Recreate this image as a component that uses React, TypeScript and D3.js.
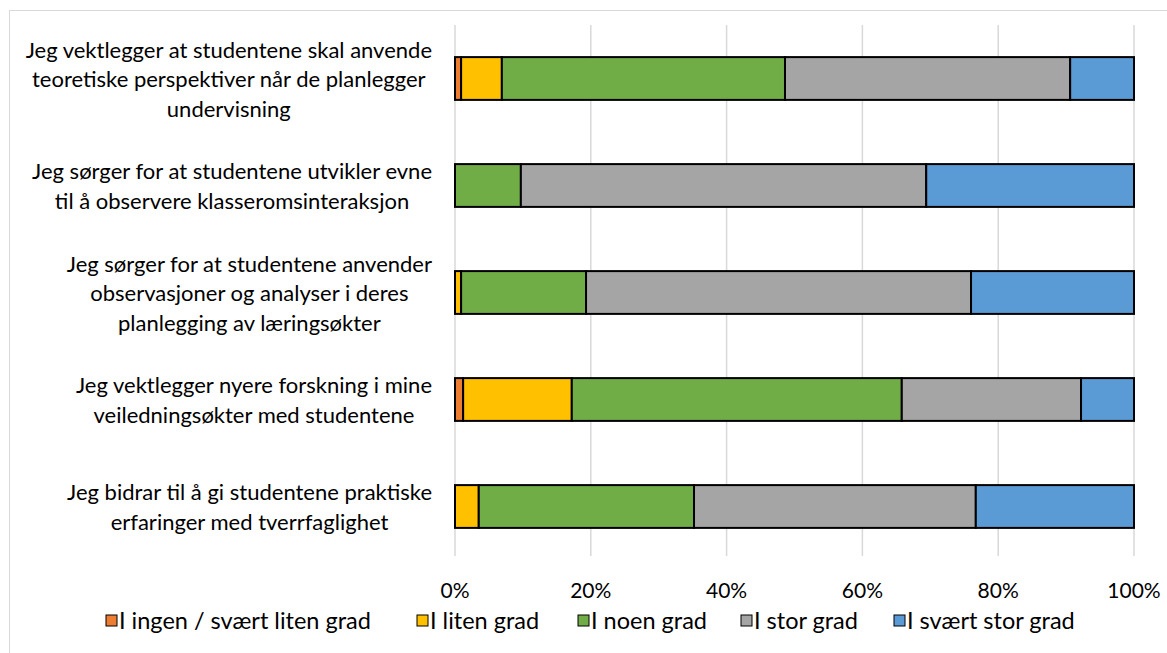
import React, { useEffect, useRef } from "react";
import * as d3 from "d3";

const categories = [
  "Jeg vektlegger at studentene skal anvende teoretiske perspektiver når de planlegger undervisning",
  "Jeg sørger for at studentene utvikler evne til å observere klasseromsinteraksjon",
  "Jeg sørger for at studentene anvender observasjoner og analyser i deres planlegging av læringsøkter",
  "Jeg vektlegger nyere forskning i mine veiledningsøkter med studentene",
  "Jeg bidrar til å gi studentene praktiske erfaringer med tverrfaglighet",
];
const categoryLines = [
  ["Jeg vektlegger at studentene skal anvende", "teoretiske perspektiver når de planlegger", "undervisning"],
  ["Jeg sørger for at studentene utvikler evne", "til å observere klasseromsinteraksjon"],
  ["Jeg sørger for at studentene anvender", "observasjoner og analyser i deres", "planlegging av læringsøkter"],
  ["Jeg vektlegger nyere forskning i mine", "veiledningsøkter med studentene"],
  ["Jeg bidrar til å gi studentene praktiske", "erfaringer med tverrfaglighet"],
];
const seriesNames = ["I ingen / svært liten grad", "I liten grad", "I noen grad", "I stor grad", "I svært stor grad"];
const ingen = [0.9, 0, 0, 1.2, 0];
const liten = [6.0, 0, 0.9, 16.0, 3.5];
const noen = [41.7, 9.7, 18.4, 48.6, 31.7];
const stor = [42.0, 59.7, 56.7, 26.4, 41.5];
const sværtStor = [9.4, 30.6, 24.0, 7.8, 23.3];
const tickValues = [0, 20, 40, 60, 80, 100];
const colors = ["#ED7D31", "#FFC000", "#70AD47", "#A5A5A5", "#5B9BD5"];

const FONT = "Lato, 'Open Sans', sans-serif";
const FS = 22;
const LEG_FS = 23.5;

export default function App() {
  const ref = useRef<SVGSVGElement>(null);
  useEffect(() => {
    const svg = d3.select(ref.current);
    svg.selectAll("*").remove();
    const W = 1167, H = 653;
    svg.append("rect").attr("width", W).attr("height", H).attr("fill", "#fff");
    svg.append("rect").attr("x", 9.5).attr("y", 10.5).attr("width", W + 10).attr("height", H + 10)
      .attr("fill", "none").attr("stroke", "#D9D9D9").attr("stroke-width", 1);

    const x = d3.scaleLinear().domain([0, 100]).range([455, 1134]);
    const y = d3.scaleBand<string>().domain(categories).range([25, 560]).paddingInner(0.6).paddingOuter(0.3);

    const grid = svg.append("g");
    tickValues.forEach((t) => {
      grid.append("line").attr("x1", x(t)).attr("x2", x(t)).attr("y1", 25).attr("y2", 556)
        .attr("stroke", "#D9D9D9").attr("stroke-width", 1.5);
      svg.append("text").attr("x", x(t)).attr("y", 598).attr("text-anchor", "middle")
        .attr("font-family", FONT).attr("font-size", 21).attr("fill", "#000").text(`${t}%`);
    });

    const series = [ingen, liten, noen, stor, sværtStor];
    const rows = categories.map((c, i) => {
      const o: any = { cat: c };
      seriesNames.forEach((s, j) => (o[s] = series[j][i]));
      return o;
    });
    const stacked = d3.stack<any>().keys(seriesNames)(rows);
    stacked.forEach((layer, j) => {
      svg.append("g").selectAll("rect").data(layer).join("rect")
        .attr("x", (d) => x(d[0]))
        .attr("y", (d) => y(d.data.cat)!)
        .attr("width", (d) => x(d[1]) - x(d[0]))
        .attr("height", y.bandwidth())
        .attr("fill", colors[j])
        .attr("stroke", "#000")
        .attr("stroke-width", 2);
    });

    // category labels
    const lh = 29.5;
    categories.forEach((c, i) => {
      const lines = categoryLines[i];
      const cy = y(c)! + y.bandwidth() / 2;
      const g = svg.append("g");
      const texts = lines.map((l, k) =>
        g.append("text").attr("font-family", FONT).attr("font-size", FS).attr("fill", "#000")
          .attr("text-anchor", "middle").attr("dominant-baseline", "central")
          .attr("y", cy + (k - (lines.length - 1) / 2) * lh).text(l)
      );
      const widths = texts.map((t) => (t.node() as SVGTextElement).getComputedTextLength());
      const maxW = Math.max(...widths);
      const cx = 432 - maxW / 2;
      texts.forEach((t) => t.attr("x", cx));
    });

    // legend
    const legendX = [106, 417, 578, 741, 894];
    seriesNames.forEach((s, j) => {
      svg.append("rect").attr("x", legendX[j]).attr("y", 615).attr("width", 11).attr("height", 11)
        .attr("fill", colors[j]).attr("stroke", "#000").attr("stroke-width", 1);
      svg.append("text").attr("x", legendX[j] + 13).attr("y", 629)
        .attr("font-family", FONT).attr("font-size", LEG_FS).attr("fill", "#000").text(s);
    });
  }, []);
  return <svg ref={ref} width={1167} height={653} style={{ display: "block", position: "absolute", left: 0, top: 0 }} />;
}
